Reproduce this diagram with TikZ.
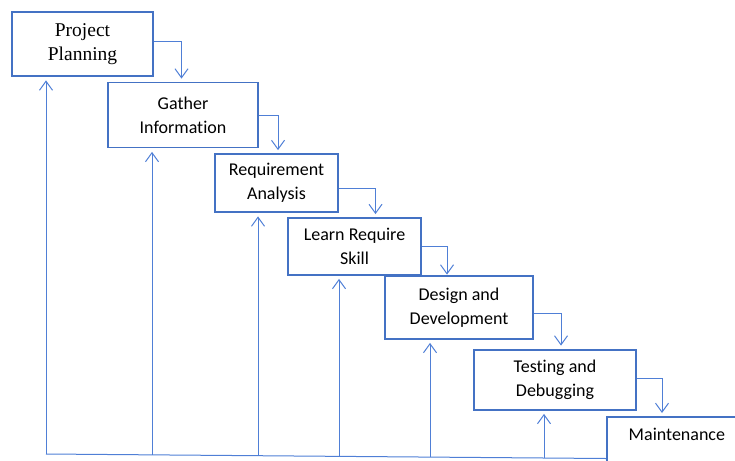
\documentclass[tikz,border=0pt]{standalone}
\usepackage{fontspec}
\setmainfont{Carlito}[Ligatures=NoCommon]
\newfontfamily\serifface{Liberation Serif}
\usetikzlibrary{arrows.meta}
\definecolor{boxblue}{HTML}{4472C4}
\definecolor{linkblue}{HTML}{4F7FD6}
\begin{document}
\begin{tikzpicture}[x=1pt,y=-1pt,
  stage/.style={draw=boxblue,line width=1.8pt,inner sep=0pt,align=center,
    font=\fontsize{18}{24}\selectfont},
  link/.style={draw=linkblue,line width=1pt,
    -{Straight Barb[length=9pt,width=13pt,line width=1pt]}},
  rail/.style={draw=linkblue,line width=1pt}]
\useasboundingbox (0,0) rectangle (735,460);
\clip (0,0) rectangle (735,460);

% waterfall stages
\node[stage,minimum width=141pt,minimum height=64pt,
  font=\serifface\fontsize{19.5}{24}\selectfont] (pp) at (82.5,44) {Project\\Planning};
\node[stage,minimum width=150pt,minimum height=65pt] (gi) at (183,115) {Gather\\Information};
\node[stage,minimum width=123pt,minimum height=58pt] (ra) at (276.5,183) {Requirement\\Analysis};
\node[stage,minimum width=133pt,minimum height=57pt] (lr) at (354.5,246.5) {Learn Require\\Skill};
\node[stage,minimum width=148pt,minimum height=63pt] (dd) at (459,307.5) {Design and\\Development};
\node[stage,minimum width=162pt,minimum height=60pt] (td) at (555,380) {Testing and\\Debugging};
\node[stage,anchor=north west,minimum width=140pt,text height=18.5pt,text depth=30pt,
  inner ysep=5.5pt] (mt) at (606,416) {Maintenance};

% forward steps between stages
\draw[link,shorten >=3pt] ([yshift=2pt]pp.east) -| ([xshift=-1.5pt]gi.north);
\draw[link,shorten >=3pt] (gi.east) -| ([xshift=1.5pt]ra.north);
\draw[link,shorten >=3pt] ([yshift=-5pt]ra.east) -| ([xshift=21pt]lr.north);
\draw[link,shorten >=0.5pt] (lr.east) -| ([xshift=-12pt]dd.north);
\draw[link,shorten >=3.5pt] ([yshift=-5.5pt]dd.east) -| ([xshift=6pt]td.north);
\draw[link,shorten >=3pt] ([yshift=2pt]td.east) -| ([xshift=56pt]mt.north west);

% feedback rail along the bottom
\coordinate (r0) at (606,458.5);
\coordinate (r1) at (46,454);
\coordinate (r2) at (152,454.9);
\coordinate (r3) at (258,455.7);
\coordinate (r4) at (339,456.4);
\coordinate (r5) at (430,457.1);
\coordinate (r6) at (544,458);
\draw[rail] (r0) -- (r1);
\draw[link,shorten >=3.5pt] (r1) -- (r1 |- pp.south);
\draw[link,shorten >=3.5pt] (r2) -- (r2 |- gi.south);
\draw[link,shorten >=3.5pt] (r3) -- (r3 |- ra.south);
\draw[link,shorten >=3pt] (r4) -- (r4 |- lr.south);
\draw[link,shorten >=3pt] (r5) -- (r5 |- dd.south);
\draw[link,shorten >=3pt] (r6) -- (r6 |- td.south);
\end{tikzpicture}
\end{document}
